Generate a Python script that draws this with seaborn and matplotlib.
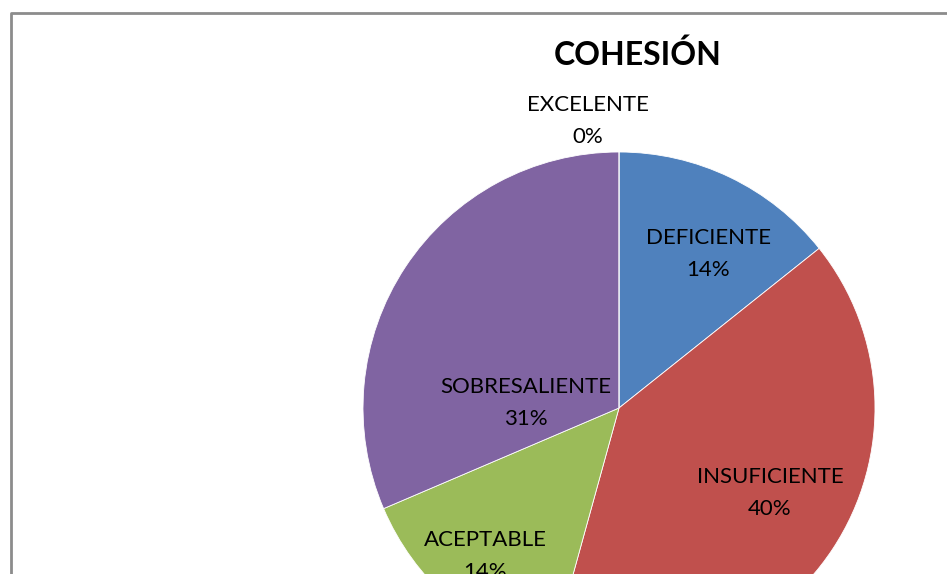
import matplotlib.pyplot as plt
import seaborn as sns

# Datos del gráfico de pastel
categorias = ['DEFICIENTE', 'INSUFICIENTE', 'ACEPTABLE', 'SOBRESALIENTE', 'EXCELENTE']
cantidades = [5, 14, 5, 11, 0]
colores = ['#4F81BD', '#C0504D', '#9BBB59', '#8064A2', '#4BACC6']

# posiciones de las etiquetas (pixeles, origen arriba a la izquierda)
pos_etiquetas = [(708, 254), (770, 493), (485, 556), (526, 403), (588, 121)]

sns.set_theme(style='white')
plt.rcParams['font.family'] = ['Lato', 'DejaVu Sans']

W, H = 947, 574
fig = plt.figure(figsize=(W / 100, H / 100), dpi=100)
ax = fig.add_axes([0, 0, 1, 1])

total = sum(cantidades)
porcentajes = [f'{round(100 * c / total)}%' for c in cantidades]

ax.pie(cantidades, colors=sns.color_palette(colores), startangle=90, counterclock=False,
       center=(619, H - 408), radius=256,
       wedgeprops=dict(edgecolor='white', linewidth=0.6))

for cat, pct, (x, y) in zip(categorias, porcentajes, pos_etiquetas):
    ax.text(x, H - y, f'{cat}\n{pct}', ha='center', va='center', fontsize=16,
            color='black', linespacing=1.7)

ax.text(638, H - 55, 'COHESIÓN', ha='center', va='center', fontsize=23,
        fontweight='bold', color='black')

# marco del gráfico (recortado a la derecha y abajo)
ax.plot([11, 11, W], [0, H - 13, H - 13], color='#8c8c8c', lw=2, clip_on=False)

ax.set_xlim(0, W)
ax.set_ylim(0, H)
ax.set_aspect('auto')
ax.axis('off')

plt.savefig('out.png', dpi=100)
